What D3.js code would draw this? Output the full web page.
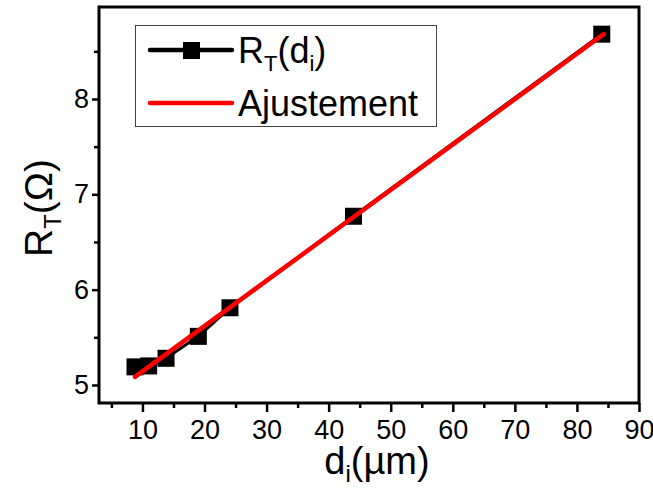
<!DOCTYPE html>
<html>
<head>
<meta charset="utf-8">
<script src="https://cdn.jsdelivr.net/npm/d3@7"></script>
<style>
  html, body { margin: 0; padding: 0; background: #fff; }
  svg { display: block; font-family: "Liberation Sans", Arial, sans-serif; }
</style>
</head>
<body>
<svg id="chart" width="653" height="494"></svg>
<script>
// ---- data ----
const diValues = [8.8, 11.0, 13.8, 19.0, 24.1, 44.0, 84.0];
const rtValues = [5.19, 5.20, 5.28, 5.51, 5.81, 6.77, 8.68];
const fitX = [8.8, 84.3];
const fitY = [5.085, 8.68];
const xTickValues = [10, 20, 30, 40, 50, 60, 70, 80, 90];
const xMinorValues = [5, 15, 25, 35, 45, 55, 65, 75, 85];
const yTickValues = [5, 6, 7, 8];
const yMinorValues = [5.5, 6.5, 7.5, 8.5];
const legendLabels = ["R_T(d_i)", "Ajustement"];

const svg = d3.select("#chart");
const L = 99, R = 639, T = 7, B = 403;
const x = d3.scaleLinear().domain([3, 90]).range([L, R]);
const y = d3.scaleLinear().domain([4.811, 8.965]).range([B, T]);

// axes
const xAxis = d3.axisBottom(x).tickValues(xTickValues).tickSize(9).tickPadding(8).tickFormat(d3.format("d"));
const xMinor = d3.axisBottom(x).tickValues(xMinorValues).tickSize(5).tickFormat("");
const yAxis = d3.axisLeft(y).tickValues(yTickValues).tickSize(7).tickPadding(3).tickFormat(d3.format("d"));
const yMinor = d3.axisLeft(y).tickValues(yMinorValues).tickSize(5).tickFormat("");

function style(g) {
  g.select(".domain").remove();
  g.selectAll(".tick line").attr("stroke", "#000").attr("stroke-width", 2.5);
  g.selectAll(".tick text").attr("fill", "#000").style("font-size", "27px")
    .style("font-family", "'Liberation Sans', Arial, sans-serif");
}
svg.append("g").attr("transform", `translate(0,${B})`).call(xAxis).call(style);
svg.append("g").attr("transform", `translate(0,${B})`).call(xMinor).call(style);
svg.append("g").attr("transform", `translate(${L},0)`).call(yAxis).call(style);
svg.append("g").attr("transform", `translate(${L},0)`).call(yMinor).call(style);

// data line
const line = d3.line().x((d, i) => x(diValues[i])).y((d, i) => y(rtValues[i]));
svg.append("path").datum(rtValues).attr("d", line)
  .attr("fill", "none").attr("stroke", "#000").attr("stroke-width", 3);

const sq = 17;
svg.append("g").selectAll("rect").data(rtValues).join("rect")
  .attr("x", (d, i) => x(diValues[i]) - sq / 2)
  .attr("y", d => y(d) - sq / 2)
  .attr("width", sq).attr("height", sq).attr("fill", "#000");

// fit line
const fitLine = d3.line().x((d, i) => x(fitX[i])).y((d, i) => y(fitY[i]));
svg.append("path").datum(fitY).attr("d", fitLine)
  .attr("fill", "none").attr("stroke", "#ff0000").attr("stroke-width", 4.5)
  .attr("stroke-linecap", "round");

// frame
svg.append("rect").attr("x", L).attr("y", T).attr("width", R - L).attr("height", B - T)
  .attr("fill", "none").attr("stroke", "#000").attr("stroke-width", 3);

// legend
const lg = svg.append("g");
lg.append("rect").attr("x", 135.5).attr("y", 25.5).attr("width", 301).attr("height", 101)
  .attr("fill", "none").attr("stroke", "#444").attr("stroke-width", 1);
lg.append("line").attr("x1", 150).attr("x2", 232).attr("y1", 50).attr("y2", 50)
  .attr("stroke", "#000").attr("stroke-width", 4.5).attr("stroke-linecap", "round");
lg.append("rect").attr("x", 183).attr("y", 42).attr("width", sq).attr("height", sq).attr("fill", "#000");
lg.append("line").attr("x1", 150).attr("x2", 232).attr("y1", 103).attr("y2", 103)
  .attr("stroke", "#ff0000").attr("stroke-width", 4.5).attr("stroke-linecap", "round");

const t1 = lg.append("text").attr("x", 238).attr("y", 63).style("font-size", "36px");
t1.append("tspan").text("R");
t1.append("tspan").attr("dy", 8).style("font-size", "22px").text("T");
t1.append("tspan").attr("dy", -8).text("(d");
t1.append("tspan").attr("dy", 8).style("font-size", "22px").text("i");
t1.append("tspan").attr("dy", -8).text(")");
lg.append("text").attr("x", 238).attr("y", 116).style("font-size", "36px").text(legendLabels[1]);

// axis titles
const xt = svg.append("text").attr("x", 377).attr("y", 474).attr("text-anchor", "middle").style("font-size", "38px");
xt.append("tspan").text("d");
xt.append("tspan").attr("dy", 8).style("font-size", "24px").text("i");
xt.append("tspan").attr("dy", -8).text("(µm)");

const yt = svg.append("text").attr("transform", "translate(52,208) rotate(-90)")
  .attr("text-anchor", "middle").style("font-size", "39px");
yt.append("tspan").text("R");
yt.append("tspan").attr("dy", 9).style("font-size", "24px").text("T");
yt.append("tspan").attr("dy", -9).text("(Ω)");
</script>
</body>
</html>
